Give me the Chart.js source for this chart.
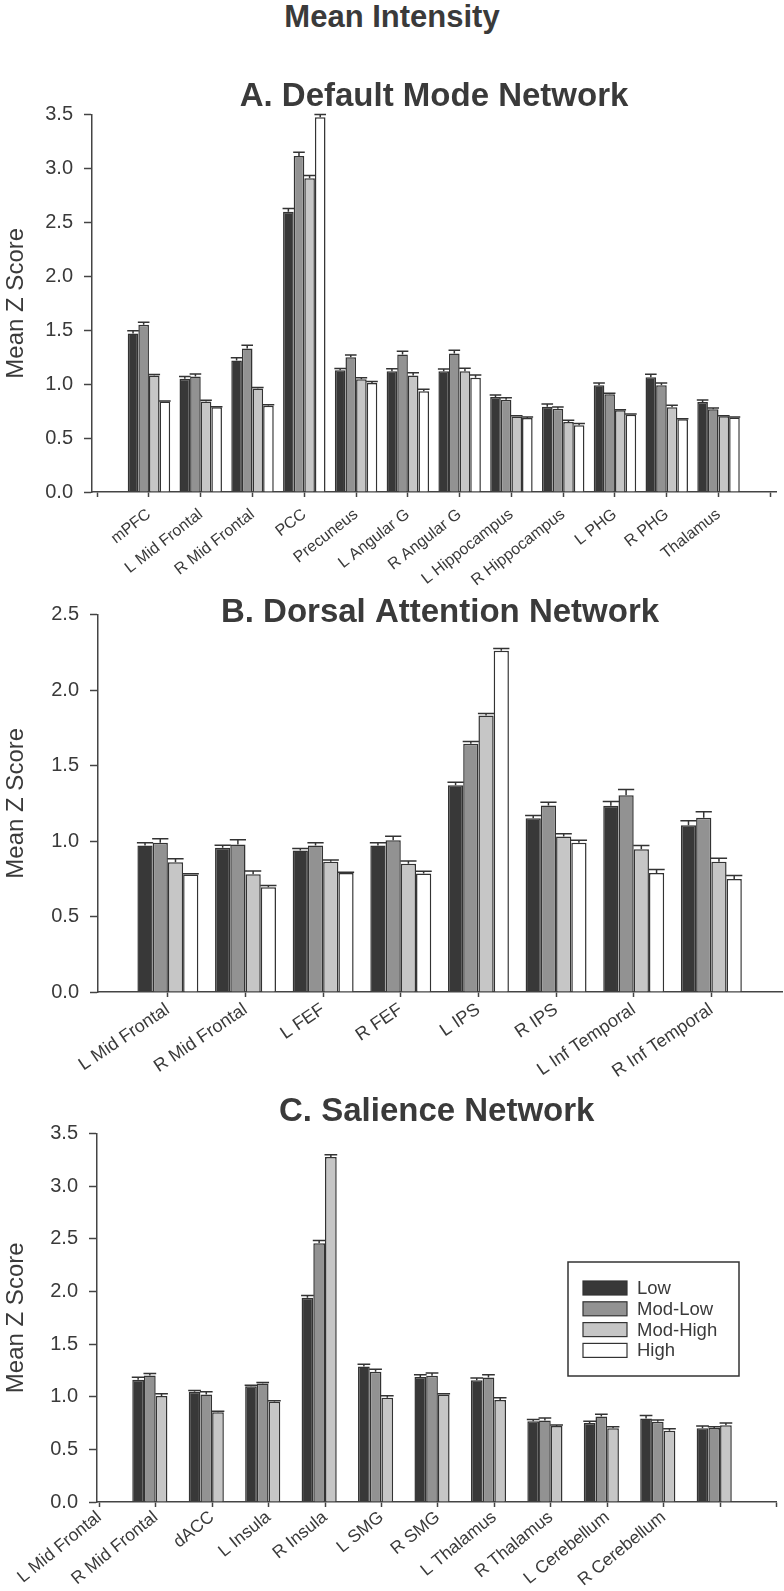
<!DOCTYPE html>
<html>
<head>
<meta charset="utf-8">
<script src="https://cdn.jsdelivr.net/npm/chart.js@4.4.0/dist/chart.umd.min.js"></script>
<style>
  body { margin: 0; background: #fff; width: 784px; height: 1591px; position: relative; overflow: hidden; font-family: "Liberation Sans", Arial, sans-serif; }
  #mainTitle { position: absolute; left: 0; top: 0; width: 784px; text-align: center; font-weight: bold; font-size: 31px; line-height: 34px; color: #3a3a3a; }
  .panel { position: absolute; left: 0; width: 784px; }
</style>
</head>
<body>
<div id="mainTitle">Mean Intensity</div>
<div class="panel" style="top:56px;height:544px"><canvas id="chartA"></canvas></div>
<div class="panel" style="top:580px;height:520px"><canvas id="chartB"></canvas></div>
<div class="panel" style="top:1085px;height:506px"><canvas id="chartC"></canvas></div>
<script>
const seriesNames = ['Low', 'Mod-Low', 'Mod-High', 'High'];
const seriesFill = ['#383838', '#929292', '#c6c6c6', '#ffffff'];

// A. Default Mode Network
const dmnRegions = ['mPFC', 'L Mid Frontal', 'R Mid Frontal', 'PCC', 'Precuneus', 'L Angular G', 'R Angular G', 'L Hippocampus', 'R Hippocampus', 'L PHG', 'R PHG', 'Thalamus'];
const dmnLow     = [1.47, 1.05, 1.22, 2.60, 1.13, 1.12, 1.12, 0.88, 0.79, 0.99, 1.065, 0.835];
const dmnModLow  = [1.55, 1.07, 1.33, 3.115, 1.25, 1.275, 1.285, 0.855, 0.773, 0.906, 0.99, 0.767];
const dmnModHigh = [1.08, 0.84, 0.96, 2.91, 1.045, 1.08, 1.12, 0.70, 0.65, 0.758, 0.785, 0.702];
const dmnHigh    = [0.84, 0.785, 0.80, 3.475, 1.01, 0.935, 1.06, 0.686, 0.618, 0.717, 0.674, 0.69];
const dmnLowErr     = [0.025, 0.02, 0.025, 0.03, 0.015, 0.022, 0.02, 0.02, 0.025, 0.022, 0.027, 0.018];
const dmnModLowErr  = [0.025, 0.025, 0.03, 0.035, 0.02, 0.03, 0.03, 0.02, 0.015, 0.01, 0.02, 0.012];
const dmnModHighErr = [0.01, 0.01, 0.01, 0.025, 0.015, 0.027, 0.028, 0.006, 0.015, 0.005, 0.019, 0.006];
const dmnHighErr    = [0.005, 0.005, 0.008, 0.025, 0.015, 0.018, 0.025, 0.01, 0.018, 0.006, 0.006, 0.006];

// B. Dorsal Attention Network
const danRegions = ['L Mid Frontal', 'R Mid Frontal', 'L FEF', 'R FEF', 'L IPS', 'R IPS', 'L Inf Temporal', 'R Inf Temporal'];
const danLow     = [0.97, 0.955, 0.937, 0.97, 1.37, 1.151, 1.233, 1.105];
const danModLow  = [0.988, 0.977, 0.97, 1.005, 1.644, 1.235, 1.304, 1.154];
const danModHigh = [0.86, 0.78, 0.862, 0.85, 1.832, 1.03, 0.946, 0.862];
const danHigh    = [0.778, 0.694, 0.789, 0.785, 2.261, 0.988, 0.789, 0.749];
const danLowErr     = [0.018, 0.017, 0.013, 0.018, 0.02, 0.018, 0.029, 0.029];
const danModLowErr  = [0.027, 0.031, 0.018, 0.027, 0.016, 0.022, 0.038, 0.04];
const danModHighErr = [0.022, 0.022, 0.013, 0.018, 0.013, 0.018, 0.024, 0.024];
const danHighErr    = [0.005, 0.011, 0.004, 0.015, 0.015, 0.017, 0.022, 0.022];

// C. Salience Network (labels sit one slot left of the bar groups, as in the figure)
const salRegions = ['L Mid Frontal', 'R Mid Frontal', 'dACC', 'L Insula', 'R Insula', 'L SMG', 'R SMG', 'L Thalamus', 'R Thalamus', 'L Cerebellum', 'R Cerebellum'];
const salLow     = [1.1625, 1.047, 1.10, 1.941, 1.287, 1.1875, 1.156, 0.766, 0.75, 0.794, 0.70];
const salModLow  = [1.203, 1.022, 1.125, 2.459, 1.237, 1.20, 1.184, 0.775, 0.8125, 0.7625, 0.703];
const salModHigh = [1.006, 0.853, 0.953, 3.277, 0.99, 1.022, 0.969, 0.722, 0.70, 0.678, 0.728];
const salLowErr     = [0.022, 0.012, 0.01, 0.022, 0.021, 0.022, 0.022, 0.018, 0.016, 0.028, 0.022];
const salModLowErr  = [0.019, 0.025, 0.01, 0.025, 0.025, 0.025, 0.025, 0.022, 0.022, 0.016, 0.013];
const salModHighErr = [0.022, 0.01, 0.01, 0.023, 0.019, 0.006, 0.021, 0.009, 0.016, 0.019, 0.022];

const yTicksA = [0, 0.5, 1.0, 1.5, 2.0, 2.5, 3.0, 3.5];
const yTicksB = [0, 0.5, 1.0, 1.5, 2.0, 2.5];
const yTicksC = [0, 0.5, 1.0, 1.5, 2.0, 2.5, 3.0, 3.5];

const FONT = '"Liberation Sans", Arial, Helvetica, sans-serif';
const INK = '#3a3a3a';

const errorBars = {
    id: 'errorBars',
    afterDatasetsDraw(chart) {
        const ctx = chart.ctx;
        const yScale = chart.scales.y;
        ctx.save();
        ctx.strokeStyle = '#333';
        ctx.lineWidth = 1.5;
        chart.data.datasets.forEach((ds, i) => {
            if (!ds.errors) return;
            chart.getDatasetMeta(i).data.forEach((bar, j) => {
                const v = ds.data[j].y;
                if (v == null) return;
                const yTop = yScale.getPixelForValue(v + ds.errors[j]);
                const half = bar.width / 2 + 0.5;
                ctx.beginPath();
                ctx.moveTo(bar.x, bar.y);
                ctx.lineTo(bar.x, yTop);
                ctx.moveTo(bar.x - half, yTop);
                ctx.lineTo(bar.x + half, yTop);
                ctx.stroke();
            });
        });
        ctx.restore();
    }
};

const boxLegend = {
    id: 'boxLegend',
    afterDraw(chart, args, opts) {
        if (!opts.show) return;
        const ctx = chart.ctx;
        ctx.save();
        ctx.strokeStyle = '#333';
        ctx.lineWidth = 1.5;
        ctx.strokeRect(opts.x, opts.y, opts.w, opts.h);
        ctx.font = opts.fontSize + 'px ' + FONT;
        ctx.textBaseline = 'middle';
        chart.data.datasets.forEach((ds, i) => {
            const cy = opts.y + opts.firstRow + i * opts.rowH;
            ctx.fillStyle = ds.backgroundColor;
            ctx.fillRect(opts.x + opts.swX, cy - opts.swH / 2, opts.swW, opts.swH);
            ctx.lineWidth = 1.2;
            ctx.strokeRect(opts.x + opts.swX, cy - opts.swH / 2, opts.swW, opts.swH);
            ctx.fillStyle = INK;
            ctx.fillText(ds.label, opts.x + opts.textX, cy + 1);
        });
        ctx.restore();
    }
};

function makePanel(canvasId, p) {
    const canvas = document.getElementById(canvasId);
    const H = canvas.parentElement.clientHeight;
    const datasets = p.series.map((vals, k) => ({
        label: seriesNames[k],
        data: p.groupPos.map((x, i) => ({ x: x, y: vals ? vals[i] : null })),
        errors: p.errors[k],
        backgroundColor: seriesFill[k],
        borderColor: '#333',
        borderWidth: 1.5,
        barPercentage: 1.0,
        categoryPercentage: p.groupWidth
    }));

    new Chart(canvas.getContext('2d'), {
        type: 'bar',
        data: { datasets: datasets },
        plugins: [errorBars, boxLegend],
        options: {
            responsive: true,
            maintainAspectRatio: false,
            animation: false,
            layout: { padding: { left: 0, right: 784 - p.area.right, top: 0, bottom: 0 } },
            plugins: {
                legend: { display: false },
                tooltip: { enabled: false },
                title: {
                    display: true,
                    text: p.title,
                    fullSize: false,
                    color: INK,
                    font: { family: FONT, size: 33, weight: 'bold', lineHeight: 1.2 },
                    padding: p.titlePad
                },
                boxLegend: p.legend || { show: false }
            },
            scales: {
                x: {
                    type: 'linear',
                    offset: false,
                    min: p.xMin,
                    max: p.xMax,
                    afterBuildTicks: s => { s.ticks = p.tickPos.map(v => ({ value: v })); },
                    afterFit: s => { s.height = H - p.area.bottom; s.paddingLeft = 0; s.paddingRight = 0; },
                    ticks: {
                        autoSkip: false,
                        minRotation: p.rotation,
                        maxRotation: p.rotation,
                        padding: p.labelPad,
                        color: INK,
                        font: { family: FONT, size: p.labelSize },
                        callback: v => p.labelAt(v)
                    },
                    grid: { offset: false, drawOnChartArea: false, drawTicks: true, tickLength: 5, tickWidth: 1.5, tickColor: '#444' },
                    border: { color: '#444', width: 1.5 }
                },
                y: {
                    min: 0,
                    max: p.yTicks[p.yTicks.length - 1],
                    afterBuildTicks: s => { s.ticks = p.yTicks.map(v => ({ value: v })); },
                    afterFit: s => { s.width = p.area.left; s.paddingTop = 0; s.paddingBottom = 0; },
                    ticks: {
                        padding: 11,
                        color: INK,
                        font: { family: FONT, size: 20 },
                        callback: v => v.toFixed(1)
                    },
                    grid: { drawOnChartArea: false, drawTicks: true, tickLength: 8, tickWidth: 1.5, tickColor: '#444' },
                    border: { color: '#444', width: 1.5 },
                    title: {
                        display: true,
                        text: 'Mean Z Score',
                        color: INK,
                        font: { family: FONT, size: 24 },
                        padding: { top: 2, bottom: 0 }
                    }
                }
            }
        }
    });
}

document.addEventListener('DOMContentLoaded', function() {

    makePanel('chartA', {
        title: 'A. Default Mode Network',
        titlePad: { top: 21, bottom: -2 },
        area: { left: 92, right: 776, bottom: 436 },
        series: [dmnLow, dmnModLow, dmnModHigh, dmnHigh],
        errors: [dmnLowErr, dmnModLowErr, dmnModHighErr, dmnHighErr],
        groupPos: dmnRegions.map((_, i) => i + 1),
        tickPos: [0, 1, 2, 3, 4, 5, 6, 7, 8, 9, 10, 11, 12, 13],
        labelAt: v => dmnRegions[v - 1] || '',
        xMin: -0.1, xMax: 13.11,
        groupWidth: 0.82,
        rotation: 38,
        labelSize: 16,
        labelPad: 8,
        yTicks: yTicksA
    });

    makePanel('chartB', {
        title: 'B. Dorsal Attention Network',
        titlePad: { top: 13, bottom: -18 },
        area: { left: 98, right: 782, bottom: 412 },
        series: [danLow, danModLow, danModHigh, danHigh],
        errors: [danLowErr, danModLowErr, danModHighErr, danHighErr],
        groupPos: danRegions.map((_, i) => i + 1),
        tickPos: [1, 2, 3, 4, 5, 6, 7, 8],
        labelAt: v => danRegions[v - 1] || '',
        xMin: 0.1, xMax: 8.91,
        groupWidth: 0.785,
        rotation: 34,
        labelSize: 18,
        labelPad: 2,
        yTicks: yTicksB
    });

    makePanel('chartC', {
        title: 'C. Salience Network',
        titlePad: { top: 7, bottom: 2 },
        area: { left: 97, right: 776.5, bottom: 417 },
        series: [salLow, salModLow, salModHigh, null],
        errors: [salLowErr, salModLowErr, salModHighErr, null],
        groupPos: salRegions.map((_, i) => i + 1),
        tickPos: [0, 1, 2, 3, 4, 5, 6, 7, 8, 9, 10, 11, 12],
        labelAt: v => salRegions[v] || '',
        xMin: -0.04, xMax: 12.0,
        groupWidth: 0.83,
        rotation: 39,
        labelSize: 17.5,
        labelPad: 0,
        yTicks: yTicksC,
        legend: { show: true, x: 568, y: 177, w: 171, h: 114, swX: 15, swW: 44, swH: 14, firstRow: 26, rowH: 20.8, textX: 69, fontSize: 18.5 }
    });
});
</script>
</body>
</html>
